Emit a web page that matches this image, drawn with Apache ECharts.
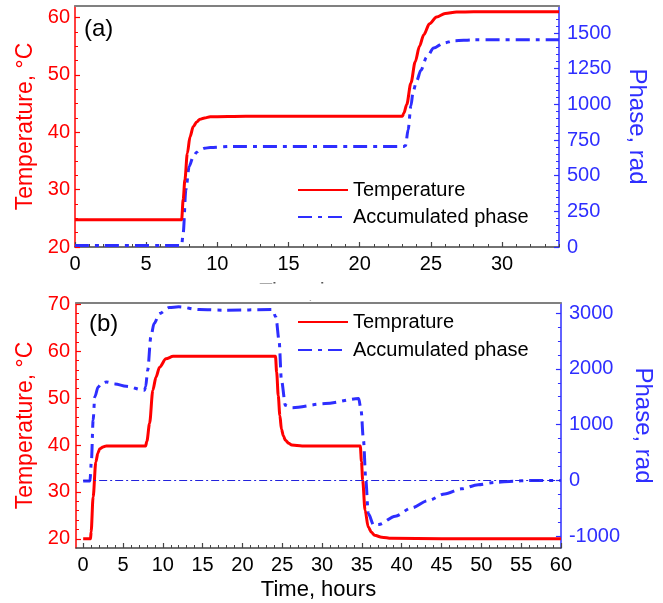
<!DOCTYPE html>
<html>
<head>
<meta charset="utf-8">
<script src="https://cdn.jsdelivr.net/npm/echarts@6/dist/echarts.min.js"></script>
<style>
  html, body { margin: 0; background: #fff; }
  #chart { width: 663px; height: 603px; }
</style>
</head>
<body>
<div id="chart"></div>
<script>
// panel (a)
const aTempTime = [0, 7.3, 7.49, 7.6, 7.72, 7.89, 8.08, 8.31, 8.55, 8.78, 9.1, 9.5, 12, 23.0, 23.1, 23.3, 23.6, 23.9, 24.2, 24.5, 24.9, 25.4, 26.0, 26.8, 28, 34];
const aTempValue = [24.75, 24.75, 24.75, 28.3, 31.7, 36.3, 39.2, 41.0, 41.8, 42.26, 42.5, 42.7, 42.8, 42.8, 43.3, 44.8, 48.6, 52.3, 55.0, 57.0, 58.9, 60.1, 60.7, 60.95, 61, 61];
const aPhaseTime = [0, 7.35, 7.49, 7.6, 7.79, 8.02, 8.31, 8.55, 8.78, 9.1, 9.5, 11, 23.1, 23.22, 23.4, 23.6, 23.75, 24.0, 24.3, 24.7, 25.2, 25.9, 26.6, 28, 34];
const aPhaseValue = [10, 10, 12, 98, 402, 565, 635, 665, 682, 692, 698, 705, 705, 712, 822, 990, 1090, 1165, 1240, 1330, 1395, 1430, 1446, 1453, 1453];

// panel (b)
const bTempTime = [0, 0.92, 1.0, 1.25, 1.59, 1.85, 2.09, 2.5, 2.9, 7.84, 8.0, 8.34, 8.75, 9.15, 9.59, 10.4, 11.3, 24.15, 24.3, 24.5, 24.7, 24.9, 25.15, 25.4, 25.8, 26.2, 27.5, 34.8, 34.95, 35.1, 35.4, 35.8, 36.2, 36.6, 37.5, 38.7, 45, 60];
const bTempValue = [20, 20, 21.5, 28.9, 36.4, 38.3, 39.2, 39.6, 39.8, 39.8, 40.8, 44.6, 51.7, 54.5, 56.6, 58.4, 58.9, 58.9, 55.5, 50.5, 46.3, 43.4, 41.9, 41.0, 40.4, 40.0, 39.8, 39.8, 36.5, 32.5, 26.1, 22.5, 21.4, 20.75, 20.35, 20.1, 20.0, 20.0];
const bPhaseTime = [0, 0.85, 1.04, 1.25, 1.46, 1.88, 2.3, 2.9, 4, 5.4, 7.7, 7.85, 8.1, 8.5, 8.9, 9.6, 10.8, 12, 14.6, 17.9, 23.75, 24.2, 24.6, 24.9, 25.4, 26.2, 30.4, 34.6, 34.9, 35.2, 35.5, 35.8, 36.5, 37.1, 39.2, 41.25, 43.3, 45.4, 47.5, 49.6, 51.7, 54, 56, 60];
const bPhaseValue = [-10, -10, 362, 1078, 1496, 1675, 1740, 1765, 1730, 1687, 1616, 1680, 1974, 2571, 2810, 2990, 3097, 3110, 3061, 3050, 3061, 2929, 2511, 1795, 1347, 1305, 1377, 1467, 1257, 720, 0, -593, -802, -790, -640, -490, -360, -240, -150, -75, -35, -12, 0, 0];

// tick labels
const aTimeTicks = [0, 5, 10, 15, 20, 25, 30];
const aTempTicks = [20, 30, 40, 50, 60];
const aPhaseTicks = [0, 250, 500, 750, 1000, 1250, 1500];
const bTimeTicks = [0, 5, 10, 15, 20, 25, 30, 35, 40, 45, 50, 55, 60];
const bTempTicks = [20, 30, 40, 50, 60, 70];
const bPhaseTicks = [-1000, 0, 1000, 2000, 3000];

const font = 'Liberation Sans, Arial, sans-serif';
const red = '#ff0000';
const blue = '#2e2eff';
const dashDot = [14, 6, 4, 6];

function zip(xs, ys) {
  return xs.map((x, i) => [x, ys[i]]);
}

// minor tick positions between the major ones
function minors(from, to, step, major) {
  const out = [];
  for (let v = from; v <= to + 1e-9; v += step) {
    const r = Math.round(v * 1000) / 1000;
    if (Math.abs(r / major - Math.round(r / major)) > 1e-6) out.push(r);
  }
  return out;
}

function majorAxis(gridIndex, min, max, ticks, color, lineColor, margin, extra) {
  return Object.assign({
    gridIndex, type: 'value', min, max,
    axisLine: { show: true, onZero: false, lineStyle: { color: lineColor, width: 1.5 } },
    axisTick: { show: true, inside: true, length: 5, customValues: ticks, lineStyle: { color: lineColor, width: 1.2 } },
    axisLabel: { customValues: ticks, fontSize: 20, color, margin, fontFamily: font, formatter: (v) => String(v) },
    splitLine: { show: false }
  }, extra);
}

function minorAxis(gridIndex, min, max, ticks, lineColor, position) {
  return {
    gridIndex, type: 'value', min, max, position,
    axisLine: { show: false, onZero: false },
    axisTick: { show: true, inside: true, length: 3, customValues: ticks, lineStyle: { color: lineColor, width: 1 } },
    axisLabel: { show: false },
    splitLine: { show: false }
  };
}

function borderAxis(gridIndex, min, max) {
  return {
    gridIndex, type: 'value', min, max, position: 'top',
    axisLine: { show: true, onZero: false, lineStyle: { color: '#808080', width: 2 } },
    axisTick: { show: false }, axisLabel: { show: false }, splitLine: { show: false }
  };
}

const nameStyle = (color, size) => ({ fontSize: size, color, fontFamily: font });

const legendBase = {
  orient: 'vertical', left: 297, padding: 0,
  itemWidth: 50, itemHeight: 14,
  itemStyle: { opacity: 0, borderWidth: 0 },
  textStyle: { fontSize: 20, lineHeight: 20, color: '#000', fontFamily: font }
};

const chart = echarts.init(document.getElementById('chart'));
chart.setOption({
  animation: false,
  backgroundColor: '#fff',
  grid: [
    { left: 75, top: 6, width: 484, height: 241 },
    { left: 76, top: 303, width: 486, height: 245 }
  ],
  xAxis: [
    majorAxis(0, 0, 34, aTimeTicks, '#000', '#444', 7, {
      position: 'bottom', name: 'Time, hours', nameLocation: 'middle', nameGap: 34,
      nameTextStyle: nameStyle('#555', 22)
    }),
    minorAxis(0, 0, 34, minors(0, 34, 1, 5), '#444', 'bottom'),
    borderAxis(0, 0, 34),
    majorAxis(1, -0.9, 60, bTimeTicks, '#000', '#444', 7, {
      position: 'bottom', name: 'Time, hours', nameLocation: 'middle', nameGap: 31,
      nameTextStyle: nameStyle('#000', 22)
    }),
    minorAxis(1, -0.9, 60, minors(0, 60, 1, 5), '#444', 'bottom'),
    borderAxis(1, -0.9, 60)
  ],
  yAxis: [
    majorAxis(0, 20, 62, aTempTicks, red, red, 5, {
      position: 'left', name: 'Temperature, °C', nameLocation: 'middle', nameGap: 38,
      nameTextStyle: nameStyle(red, 23)
    }),
    minorAxis(0, 20, 62, minors(20, 62, 2.5, 10), red, 'left'),
    majorAxis(0, 0, 1690, aPhaseTicks, blue, blue, 8, {
      position: 'right', name: 'Phase, rad', nameLocation: 'middle', nameGap: 66, nameRotate: -90,
      nameTextStyle: nameStyle(blue, 24)
    }),
    minorAxis(0, 0, 1690, minors(0, 1690, 50, 250), blue, 'right'),
    majorAxis(1, 18.04, 70.28, bTempTicks, red, red, 6, {
      position: 'left', name: 'Temperature, °C', nameLocation: 'middle', nameGap: 38,
      nameTextStyle: nameStyle(red, 23)
    }),
    minorAxis(1, 18.04, 70.28, minors(18, 70, 2, 10), red, 'left'),
    majorAxis(1, -1209, 3179, bPhaseTicks, blue, blue, 8, {
      position: 'right', name: 'Phase, rad', nameLocation: 'middle', nameGap: 70, nameRotate: -90,
      nameTextStyle: nameStyle(blue, 24)
    }),
    minorAxis(1, -1209, 3179, minors(-1000, 3000, 250, 1000), blue, 'right')
  ],
  legend: [
    Object.assign({}, legendBase, { data: ['Temperature', 'Accumulated phase'], top: 180, itemGap: 7 }),
    Object.assign({}, legendBase, { data: ['Temprature', 'Accumulated phase'], top: 312, itemGap: 8 })
  ],
  graphic: [
    { type: 'text', left: 84, top: 17, style: { text: '(a)', fontSize: 24, fill: '#000', fontFamily: font } },
    { type: 'text', left: 89, top: 312, style: { text: '(b)', fontSize: 24, fill: '#000', fontFamily: font } },
    // the lower panel hides most of the upper panel's axis title
    { type: 'rect', z: 100, shape: { x: 240, y: 283.5, width: 160, height: 17 }, style: { fill: '#fff' } }
  ],
  series: [
    {
      name: 'Accumulated phase', type: 'line', xAxisIndex: 0, yAxisIndex: 2,
      data: zip(aPhaseTime, aPhaseValue), showSymbol: false, symbol: 'none',
      smooth: 0.3, smoothMonotone: 'x',
      lineStyle: { color: blue, width: 3, type: dashDot }, itemStyle: { color: blue }
    },
    {
      name: 'Temperature', type: 'line', xAxisIndex: 0, yAxisIndex: 0,
      data: zip(aTempTime, aTempValue), showSymbol: false, symbol: 'none',
      smooth: 0.3, smoothMonotone: 'x',
      lineStyle: { color: red, width: 3 }, itemStyle: { color: red }
    },
    {
      name: 'Accumulated phase', type: 'line', xAxisIndex: 3, yAxisIndex: 6,
      data: zip(bPhaseTime, bPhaseValue), showSymbol: false, symbol: 'none',
      smooth: 0.3, smoothMonotone: 'x',
      lineStyle: { color: blue, width: 3, type: dashDot }, itemStyle: { color: blue },
      markLine: {
        silent: true, symbol: 'none', label: { show: false },
        lineStyle: { color: '#2222dd', width: 1, type: [8, 3, 2, 3] },
        data: [[{ coord: [0, 0] }, { coord: [60, 0] }]]
      }
    },
    {
      name: 'Temprature', type: 'line', xAxisIndex: 3, yAxisIndex: 4,
      data: zip(bTempTime, bTempValue), showSymbol: false, symbol: 'none',
      smooth: 0.3, smoothMonotone: 'x',
      lineStyle: { color: red, width: 3 }, itemStyle: { color: red }
    }
  ]
});
</script>
</body>
</html>
